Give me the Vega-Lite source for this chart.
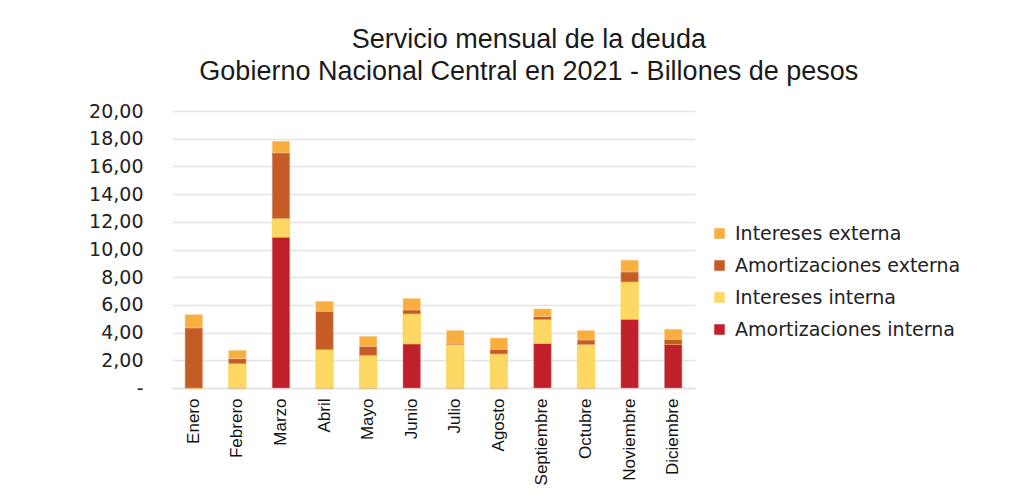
{
  "$schema": "https://vega.github.io/schema/vega-lite/v6.json",
  "width": 523,
  "height": 277,
  "padding": {"left": 88, "top": 26, "right": 10, "bottom": 5},
  "background": "white",
  "title": {
    "text": ["Servicio mensual de la deuda", "Gobierno Nacional Central en 2021 - Billones de pesos"],
    "font": "Liberation Sans",
    "fontSize": 27,
    "fontWeight": "normal",
    "lineHeight": 32,
    "color": "#1a1a1a",
    "anchor": "middle",
    "frame": "bounds",
    "dx": 4,
    "offset": 16
  },
  "data": {
    "values": [
      {"mes": "Enero", "serie": "Amortizaciones interna", "orden": 1, "valor": 0},
      {"mes": "Enero", "serie": "Intereses interna", "orden": 2, "valor": 0},
      {"mes": "Enero", "serie": "Amortizaciones externa", "orden": 3, "valor": 4.34},
      {"mes": "Enero", "serie": "Intereses externa", "orden": 4, "valor": 0.96},
      {"mes": "Febrero", "serie": "Amortizaciones interna", "orden": 1, "valor": 0},
      {"mes": "Febrero", "serie": "Intereses interna", "orden": 2, "valor": 1.76},
      {"mes": "Febrero", "serie": "Amortizaciones externa", "orden": 3, "valor": 0.36},
      {"mes": "Febrero", "serie": "Intereses externa", "orden": 4, "valor": 0.60},
      {"mes": "Marzo", "serie": "Amortizaciones interna", "orden": 1, "valor": 10.89},
      {"mes": "Marzo", "serie": "Intereses interna", "orden": 2, "valor": 1.35},
      {"mes": "Marzo", "serie": "Amortizaciones externa", "orden": 3, "valor": 4.74},
      {"mes": "Marzo", "serie": "Intereses externa", "orden": 4, "valor": 0.84},
      {"mes": "Abril", "serie": "Amortizaciones interna", "orden": 1, "valor": 0},
      {"mes": "Abril", "serie": "Intereses interna", "orden": 2, "valor": 2.77},
      {"mes": "Abril", "serie": "Amortizaciones externa", "orden": 3, "valor": 2.77},
      {"mes": "Abril", "serie": "Intereses externa", "orden": 4, "valor": 0.72},
      {"mes": "Mayo", "serie": "Amortizaciones interna", "orden": 1, "valor": 0},
      {"mes": "Mayo", "serie": "Intereses interna", "orden": 2, "valor": 2.36},
      {"mes": "Mayo", "serie": "Amortizaciones externa", "orden": 3, "valor": 0.65},
      {"mes": "Mayo", "serie": "Intereses externa", "orden": 4, "valor": 0.72},
      {"mes": "Junio", "serie": "Amortizaciones interna", "orden": 1, "valor": 3.18},
      {"mes": "Junio", "serie": "Intereses interna", "orden": 2, "valor": 2.17},
      {"mes": "Junio", "serie": "Amortizaciones externa", "orden": 3, "valor": 0.29},
      {"mes": "Junio", "serie": "Intereses externa", "orden": 4, "valor": 0.82},
      {"mes": "Julio", "serie": "Amortizaciones interna", "orden": 1, "valor": 0},
      {"mes": "Julio", "serie": "Intereses interna", "orden": 2, "valor": 3.14},
      {"mes": "Julio", "serie": "Amortizaciones externa", "orden": 3, "valor": 0.09},
      {"mes": "Julio", "serie": "Intereses externa", "orden": 4, "valor": 0.92},
      {"mes": "Agosto", "serie": "Amortizaciones interna", "orden": 1, "valor": 0},
      {"mes": "Agosto", "serie": "Intereses interna", "orden": 2, "valor": 2.46},
      {"mes": "Agosto", "serie": "Amortizaciones externa", "orden": 3, "valor": 0.34},
      {"mes": "Agosto", "serie": "Intereses externa", "orden": 4, "valor": 0.81},
      {"mes": "Septiembre", "serie": "Amortizaciones interna", "orden": 1, "valor": 3.21},
      {"mes": "Septiembre", "serie": "Intereses interna", "orden": 2, "valor": 1.73},
      {"mes": "Septiembre", "serie": "Amortizaciones externa", "orden": 3, "valor": 0.22},
      {"mes": "Septiembre", "serie": "Intereses externa", "orden": 4, "valor": 0.55},
      {"mes": "Octubre", "serie": "Amortizaciones interna", "orden": 1, "valor": 0},
      {"mes": "Octubre", "serie": "Intereses interna", "orden": 2, "valor": 3.14},
      {"mes": "Octubre", "serie": "Amortizaciones externa", "orden": 3, "valor": 0.33},
      {"mes": "Octubre", "serie": "Intereses externa", "orden": 4, "valor": 0.68},
      {"mes": "Noviembre", "serie": "Amortizaciones interna", "orden": 1, "valor": 4.96},
      {"mes": "Noviembre", "serie": "Intereses interna", "orden": 2, "valor": 2.70},
      {"mes": "Noviembre", "serie": "Amortizaciones externa", "orden": 3, "valor": 0.72},
      {"mes": "Noviembre", "serie": "Intereses externa", "orden": 4, "valor": 0.85},
      {"mes": "Diciembre", "serie": "Amortizaciones interna", "orden": 1, "valor": 3.14},
      {"mes": "Diciembre", "serie": "Intereses interna", "orden": 2, "valor": 0},
      {"mes": "Diciembre", "serie": "Amortizaciones externa", "orden": 3, "valor": 0.38},
      {"mes": "Diciembre", "serie": "Intereses externa", "orden": 4, "valor": 0.72}
    ]
  },
  "mark": {"type": "bar", "strokeWidth": 0.8, "strokeOpacity": 0.6},
  "encoding": {
    "x": {
      "field": "mes",
      "type": "nominal",
      "sort": ["Enero", "Febrero", "Marzo", "Abril", "Mayo", "Junio", "Julio", "Agosto", "Septiembre", "Octubre", "Noviembre", "Diciembre"],
      "scale": {"paddingInner": 0.6, "paddingOuter": 0.3},
      "axis": {
        "title": null,
        "labelAngle": -90,
        "labelFont": "Liberation Sans",
        "labelFontSize": 17,
        "labelColor": "#111111",
        "labelPadding": 10,
        "ticks": false,
        "domainColor": "#e6e6e6",
        "domainWidth": 2
      }
    },
    "y": {
      "field": "valor",
      "type": "quantitative",
      "stack": "zero",
      "scale": {"domain": [0, 20], "nice": false},
      "axis": {
        "title": null,
        "values": [0, 2, 4, 6, 8, 10, 12, 14, 16, 18, 20],
        "labelExpr": "datum.value == 0 ? '-' : replace(format(datum.value, '.2f'), '.', ',')",
        "labelFont": "DejaVu Sans",
        "labelFontSize": 19,
        "labelColor": "#222222",
        "labelPadding": 29,
        "ticks": false,
        "domain": false,
        "gridColor": "#e4e4e4",
        "gridWidth": 1.5
      }
    },
    "color": {
      "field": "serie",
      "type": "nominal",
      "scale": {
        "domain": ["Intereses externa", "Amortizaciones externa", "Intereses interna", "Amortizaciones interna"],
        "range": ["#f9ae3f", "#c55c26", "#fdd865", "#c0202a"]
      },
      "legend": {
        "title": null,
        "orient": "none",
        "legendX": 538,
        "legendY": 113,
        "symbolType": "square",
        "symbolSize": 110,
        "symbolStrokeWidth": 0,
        "labelFont": "DejaVu Sans",
        "labelFontSize": 19,
        "labelColor": "#222222",
        "labelOffset": 6,
        "rowPadding": 12,
        "labelLimit": 400
      }
    },
    "stroke": {
      "field": "serie",
      "type": "nominal",
      "scale": {
        "domain": ["Intereses externa", "Amortizaciones externa", "Intereses interna", "Amortizaciones interna"],
        "range": ["#fbd3a0", "#e0a080", "#f7d000", "#e08080"]
      },
      "legend": null
    },
    "order": {"field": "orden", "type": "quantitative"}
  },
  "config": {
    "view": {"stroke": null}
  }
}
